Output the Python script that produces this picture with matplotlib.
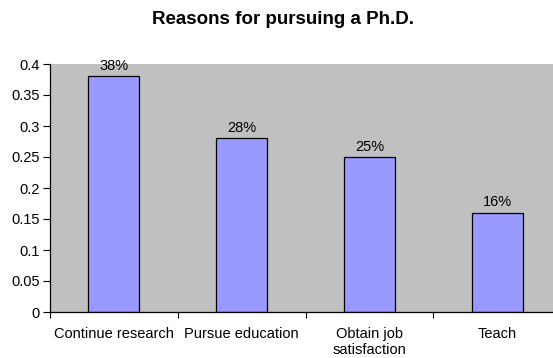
import matplotlib
matplotlib.use("Agg")
import matplotlib.pyplot as plt
import numpy as np

categories = ["Continue research", "Pursue education", "Obtain job\nsatisfaction", "Teach"]
shares = [0.38, 0.28, 0.25, 0.16]
labels = ["38%", "28%", "25%", "16%"]
yticks = [0, 0.05, 0.1, 0.15, 0.2, 0.25, 0.3, 0.35, 0.4]
ytick_labels = ["0", "0.05", "0.1", "0.15", "0.2", "0.25", "0.3", "0.35", "0.4"]

plt.rcParams["font.family"] = ["Liberation Sans", "DejaVu Sans"]

W, H = 553, 358
fig = plt.figure(figsize=(W / 100, H / 100), dpi=100)
left, right, top, bottom = 50, 561, 64, 312
ax = fig.add_axes([left / W, 1 - bottom / H, (right - left) / W, (bottom - top) / H])
ax.set_facecolor("#C0C0C0")

x = np.arange(len(categories))
bars = ax.bar(x, shares, width=0.4, color="#9999FF", edgecolor="#000000", linewidth=0.9, zorder=2)
for b, lab in zip(bars, labels):
    ax.annotate(lab, (b.get_x() + b.get_width() / 2, b.get_height()),
                xytext=(0, 2.5), textcoords="offset points", ha="center", va="bottom", fontsize=10.5)

ax.set_xlim(-0.5, len(categories) - 0.5)
ax.set_ylim(0, 0.4)
ax.set_yticks(yticks)
ax.set_yticklabels(ytick_labels, fontsize=10.5)
ax.set_xticks(x)
ax.set_xticklabels(categories, fontsize=10.5, linespacing=1.15)
ax.tick_params(axis="x", length=0, pad=11)
ax.set_xticks(np.arange(len(categories) + 1) - 0.5, minor=True)
ax.tick_params(axis="x", which="minor", length=4, direction="out", width=0.8)
ax.tick_params(axis="y", length=5, direction="out", width=0.8, pad=2.5)

for s in ["top", "right"]:
    ax.spines[s].set_visible(False)
for s in ["left", "bottom"]:
    ax.spines[s].set_color("#000000")
    ax.spines[s].set_linewidth(0.9)

fig.text(282.5 / W, 1 - 20 / H, "Reasons for pursuing a Ph.D.", ha="center", va="center",
         fontsize=13.5, fontweight="bold")

fig.savefig("out.png", dpi=100)
